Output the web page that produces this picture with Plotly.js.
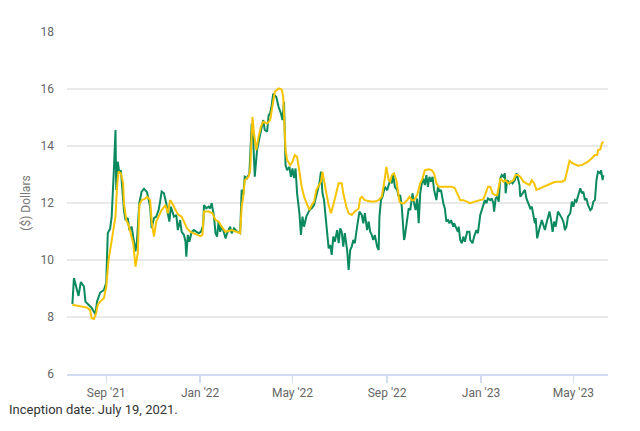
<!DOCTYPE html>
<html>
<head>
<meta charset="utf-8">
<script src="https://cdn.plot.ly/plotly-3.0.1.min.js"></script>
<style>
  html, body { margin: 0; padding: 0; background: #fff; }
  #chart { width: 640px; height: 431px; }
</style>
</head>
<body>
<div id="chart"></div>
<script>
// green line
const greenDates = [
  '2021-07-19','2021-07-21','2021-07-27','2021-07-30','2021-08-03','2021-08-05','2021-08-09','2021-08-13',
  '2021-08-18','2021-08-20','2021-08-24','2021-08-29','2021-09-01','2021-09-03','2021-09-06','2021-09-08',
  '2021-09-11','2021-09-13','2021-09-14','2021-09-16','2021-09-18','2021-09-20','2021-09-24','2021-09-26',
  '2021-09-29','2021-10-01','2021-10-04','2021-10-07','2021-10-09','2021-10-11','2021-10-14','2021-10-17',
  '2021-10-20','2021-10-24','2021-10-28','2021-10-30','2021-11-02','2021-11-05','2021-11-08','2021-11-10',
  '2021-11-12','2021-11-15','2021-11-18','2021-11-20','2021-11-22','2021-11-24','2021-11-28','2021-12-01',
  '2021-12-03','2021-12-06','2021-12-08','2021-12-11','2021-12-13','2021-12-14','2021-12-16','2021-12-18',
  '2021-12-21','2021-12-24','2021-12-27','2021-12-30','2022-01-02','2022-01-05','2022-01-06','2022-01-09',
  '2022-01-12','2022-01-14','2022-01-16','2022-01-19','2022-01-21','2022-01-23','2022-01-25','2022-01-27',
  '2022-01-29','2022-01-31','2022-02-03','2022-02-05','2022-02-09','2022-02-11','2022-02-14','2022-02-18',
  '2022-02-22','2022-02-24','2022-02-26','2022-02-28','2022-03-03','2022-03-06','2022-03-09','2022-03-11',
  '2022-03-13','2022-03-16','2022-03-19','2022-03-22','2022-03-24','2022-03-26','2022-03-29','2022-03-31',
  '2022-04-02','2022-04-04','2022-04-06','2022-04-10','2022-04-13','2022-04-16','2022-04-18','2022-04-20',
  '2022-04-22','2022-04-24','2022-04-27','2022-04-29','2022-05-01','2022-05-03','2022-05-05','2022-05-07',
  '2022-05-10','2022-05-12','2022-05-14','2022-05-16','2022-05-19','2022-05-23','2022-05-26','2022-05-29',
  '2022-06-02','2022-06-05','2022-06-07','2022-06-09','2022-06-11','2022-06-14','2022-06-15','2022-06-17',
  '2022-06-19','2022-06-21','2022-06-23','2022-06-25','2022-06-28','2022-06-30','2022-07-02','2022-07-04',
  '2022-07-06','2022-07-08','2022-07-11','2022-07-13','2022-07-15','2022-07-17','2022-07-19','2022-07-21',
  '2022-07-24','2022-07-27','2022-07-30','2022-08-01','2022-08-03','2022-08-06','2022-08-08','2022-08-10',
  '2022-08-12','2022-08-14','2022-08-16','2022-08-19','2022-08-21','2022-08-22','2022-08-24','2022-08-26',
  '2022-08-29','2022-09-01','2022-09-03','2022-09-05','2022-09-07','2022-09-09','2022-09-11','2022-09-14',
  '2022-09-16','2022-09-18','2022-09-20','2022-09-21','2022-09-23','2022-09-24','2022-09-27','2022-09-29',
  '2022-10-01','2022-10-03','2022-10-04','2022-10-06','2022-10-08','2022-10-10','2022-10-12','2022-10-14',
  '2022-10-16','2022-10-18','2022-10-20','2022-10-22','2022-10-24','2022-10-26','2022-10-28','2022-10-30',
  '2022-11-01','2022-11-04','2022-11-06','2022-11-08','2022-11-10','2022-11-13','2022-11-15','2022-11-17',
  '2022-11-19','2022-11-21','2022-11-23','2022-11-26','2022-11-27','2022-11-30','2022-12-02','2022-12-03',
  '2022-12-05','2022-12-07','2022-12-09','2022-12-11','2022-12-14','2022-12-17','2022-12-18','2022-12-21',
  '2022-12-23','2022-12-26','2022-12-28','2022-12-31','2023-01-02','2023-01-04','2023-01-06','2023-01-08',
  '2023-01-10','2023-01-13','2023-01-15','2023-01-17','2023-01-18','2023-01-20','2023-01-22','2023-01-24',
  '2023-01-26','2023-01-28','2023-01-30','2023-02-01','2023-02-02','2023-02-04','2023-02-07','2023-02-09',
  '2023-02-11','2023-02-14','2023-02-16','2023-02-18','2023-02-20','2023-02-21','2023-02-24','2023-02-27',
  '2023-03-01','2023-03-03','2023-03-06','2023-03-08','2023-03-10','2023-03-12','2023-03-13','2023-03-15',
  '2023-03-18','2023-03-21','2023-03-23','2023-03-25','2023-03-27','2023-03-31','2023-04-02','2023-04-04',
  '2023-04-06','2023-04-08','2023-04-11','2023-04-14','2023-04-16','2023-04-18','2023-04-20','2023-04-22',
  '2023-04-24','2023-04-27','2023-04-29','2023-05-01','2023-05-03','2023-05-05','2023-05-07','2023-05-10',
  '2023-05-12','2023-05-14','2023-05-16','2023-05-18','2023-05-20','2023-05-23','2023-05-25','2023-05-27',
  '2023-05-29','2023-05-31','2023-06-02','2023-06-05','2023-06-06','2023-06-08','2023-06-09'
];
const greenValues = [
  8.45, 9.37, 8.74, 9.23, 9.07, 8.54, 8.43, 8.32,
  8.10, 8.54, 8.85, 8.95, 9.20, 10.95, 11.10, 11.50,
  13.20, 14.56, 12.46, 13.45, 13.05, 13.15, 11.75, 11.40,
  11.47, 11.05, 11.17, 10.60, 10.30, 10.70, 12.00, 12.40,
  12.50, 12.38, 11.87, 11.12, 11.47, 11.52, 11.75, 12.05,
  12.40, 12.34, 11.99, 11.64, 11.35, 11.87, 11.52, 11.58,
  11.05, 11.40, 10.99, 10.88, 10.64, 10.12, 10.88, 10.64,
  10.99, 11.05, 10.99, 10.94, 10.99, 11.23, 11.93, 11.81,
  11.87, 11.81, 11.99, 11.52, 10.94, 10.82, 11.35, 10.99,
  11.17, 11.05, 10.76, 10.94, 11.17, 10.94, 11.11, 10.99,
  10.94, 12.46, 12.28, 12.92, 12.87, 13.04, 14.79, 14.20,
  12.92, 13.86, 14.27, 14.73, 14.91, 14.56, 14.50, 15.08,
  15.14, 15.43, 15.84, 15.72, 15.37, 15.14, 14.91, 15.55,
  13.33, 13.15, 13.27, 12.92, 13.21, 12.87, 13.21, 12.34,
  11.64, 10.88, 11.52, 11.17, 11.52, 11.75, 11.81, 11.93,
  12.34, 12.69, 13.10, 12.34, 12.10, 11.11, 10.99, 10.41,
  10.53, 10.18, 10.82, 10.64, 11.05, 10.59, 11.11, 10.99,
  10.47, 10.94, 10.35, 9.65, 10.35, 10.47, 10.70, 10.59,
  11.17, 11.70, 11.58, 11.29, 11.64, 11.05, 11.35, 10.99,
  10.88, 10.70, 10.88, 10.47, 10.35, 11.52, 12.10, 12.22,
  12.57, 12.45, 12.63, 12.80, 12.69, 12.98, 12.57, 12.46,
  12.22, 12.28, 11.87, 11.35, 10.70, 10.82, 11.47, 11.81,
  11.75, 12.10, 12.34, 11.99, 11.75, 12.16, 11.29, 12.34,
  12.69, 12.86, 12.63, 12.98, 12.57, 12.92, 12.75, 12.92,
  12.46, 12.10, 12.57, 12.40, 12.46, 11.99, 11.81, 11.35,
  11.40, 11.29, 11.40, 11.17, 11.29, 11.11, 10.99, 11.17,
  10.70, 10.59, 10.82, 10.64, 10.99, 10.99, 10.70, 10.59,
  10.82, 11.05, 10.94, 11.58, 11.75, 11.87, 12.10, 11.99,
  12.16, 12.10, 12.16, 11.99, 11.70, 12.16, 12.22, 12.05,
  12.86, 12.98, 12.92, 13.04, 12.34, 12.80, 12.69, 12.75,
  12.69, 12.80, 13.04, 12.86, 12.63, 12.22, 12.34, 12.46,
  12.16, 11.99, 11.81, 11.87, 11.52, 11.29, 11.47, 10.76,
  11.11, 11.40, 11.23, 11.05, 11.29, 11.70, 11.40, 10.99,
  11.35, 11.17, 11.70, 11.58, 11.47, 11.35, 11.05, 11.17,
  11.52, 11.64, 12.05, 11.87, 12.10, 12.05, 12.28, 12.52,
  12.34, 12.40, 12.10, 12.16, 11.93, 11.75, 11.81, 12.05,
  12.10, 12.80, 13.10, 13.04, 13.15, 12.80, 12.98
];

// gold line
const goldDates = [
  '2021-07-19','2021-07-29','2021-08-07','2021-08-11','2021-08-13','2021-08-16','2021-08-19','2021-08-21',
  '2021-08-24','2021-08-29','2021-09-01','2021-09-04','2021-09-07','2021-09-11','2021-09-13','2021-09-15',
  '2021-09-17','2021-09-20','2021-09-23','2021-09-24','2021-09-27','2021-09-30','2021-10-03','2021-10-06',
  '2021-10-09','2021-10-12','2021-10-14','2021-10-17','2021-10-22','2021-10-24','2021-10-28','2021-10-30',
  '2021-11-02','2021-11-05','2021-11-08','2021-11-12','2021-11-17','2021-11-20','2021-11-23','2021-11-27',
  '2021-11-30','2021-12-04','2021-12-08','2021-12-11','2021-12-15','2021-12-19','2021-12-26','2022-01-01',
  '2022-01-04','2022-01-06','2022-01-12','2022-01-17','2022-01-21','2022-01-25','2022-01-29','2022-02-03',
  '2022-02-11','2022-02-18','2022-02-22','2022-02-24','2022-02-26','2022-02-28','2022-03-05','2022-03-07',
  '2022-03-10','2022-03-12','2022-03-15','2022-03-18','2022-03-21','2022-03-24','2022-03-29','2022-04-02',
  '2022-04-05','2022-04-08','2022-04-13','2022-04-17','2022-04-19','2022-04-21','2022-04-22','2022-04-24',
  '2022-04-28','2022-05-01','2022-05-04','2022-05-07','2022-05-10','2022-05-13','2022-05-16','2022-05-20',
  '2022-05-23','2022-05-26','2022-05-29','2022-06-01','2022-06-04','2022-06-07','2022-06-09','2022-06-11',
  '2022-06-14','2022-06-17','2022-06-20','2022-06-23','2022-06-27','2022-06-30','2022-07-04','2022-07-06',
  '2022-07-10','2022-07-13','2022-07-17','2022-07-21','2022-07-26','2022-07-28','2022-07-30','2022-08-03',
  '2022-08-10','2022-08-16','2022-08-21','2022-08-25','2022-08-28','2022-08-31','2022-09-03','2022-09-05',
  '2022-09-07','2022-09-10','2022-09-13','2022-09-15','2022-09-17','2022-09-20','2022-09-23','2022-09-27',
  '2022-09-30','2022-10-03','2022-10-06','2022-10-10','2022-10-14','2022-10-17','2022-10-20','2022-10-25',
  '2022-10-29','2022-11-01','2022-11-04','2022-11-07','2022-11-15','2022-11-24','2022-11-28','2022-12-02',
  '2022-12-05','2022-12-09','2022-12-14','2022-12-18','2022-12-24','2022-12-31','2023-01-04','2023-01-07',
  '2023-01-10','2023-01-13','2023-01-16','2023-01-19','2023-01-22','2023-01-25','2023-01-26','2023-01-30',
  '2023-02-02','2023-02-05','2023-02-08','2023-02-12','2023-02-15','2023-02-18','2023-02-21','2023-02-25',
  '2023-03-01','2023-03-05','2023-03-08','2023-03-11','2023-03-14','2023-03-19','2023-03-23','2023-03-27',
  '2023-04-01','2023-04-05','2023-04-09','2023-04-16','2023-04-20','2023-04-23','2023-04-26','2023-04-29',
  '2023-05-03','2023-05-07','2023-05-12','2023-05-16','2023-05-20','2023-05-25','2023-05-29','2023-06-01',
  '2023-06-02','2023-06-05','2023-06-07','2023-06-09'
];
const goldValues = [
  8.43, 8.39, 8.33, 8.25, 7.96, 7.93, 8.14, 8.43,
  8.54, 8.66, 9.07, 10.00, 10.47, 11.05, 11.52, 12.57,
  13.10, 13.04, 12.69, 11.99, 11.40, 11.23, 10.94, 10.59,
  9.77, 10.24, 11.93, 12.10, 12.16, 12.22, 12.10, 11.35,
  10.82, 11.35, 11.52, 11.75, 11.93, 11.64, 12.10, 11.93,
  11.75, 11.58, 11.52, 11.35, 11.11, 10.99, 10.91, 10.84,
  10.88, 11.70, 11.70, 11.64, 11.40, 11.35, 11.17, 10.99,
  11.05, 10.99, 10.94, 11.87, 12.22, 12.80, 12.92, 13.15,
  15.02, 14.44, 13.86, 14.33, 14.68, 14.85, 14.79, 14.91,
  15.49, 15.90, 16.02, 15.98, 15.72, 14.56, 13.86, 13.51,
  13.33, 13.45, 13.68, 13.62, 13.04, 12.57, 12.22, 11.93,
  11.75, 11.93, 12.05, 12.46, 12.63, 12.75, 13.10, 12.75,
  12.34, 11.93, 11.64, 11.93, 12.34, 12.69, 12.69, 12.34,
  11.87, 11.64, 11.58, 11.70, 11.81, 12.16, 12.22, 12.10,
  12.05, 12.05, 12.10, 12.22, 12.69, 13.27, 12.80, 12.75,
  12.98, 13.04, 12.80, 12.34, 12.05, 11.99, 11.99, 12.10,
  12.22, 12.10, 12.10, 12.28, 12.69, 12.86, 13.15, 13.18,
  13.15, 13.04, 12.69, 12.57, 12.57, 12.57, 12.52, 12.28,
  12.10, 12.10, 12.05, 11.99, 12.05, 12.10, 12.13, 12.34,
  12.57, 12.57, 12.34, 12.28, 12.28, 12.69, 12.86, 12.75,
  12.80, 12.69, 12.75, 12.80, 12.98, 12.98, 12.92, 12.75,
  12.69, 12.63, 12.80, 12.69, 12.46, 12.52, 12.57, 12.63,
  12.69, 12.72, 12.75, 12.75, 12.80, 13.15, 13.48, 13.41,
  13.36, 13.31, 13.33, 13.39, 13.45, 13.57, 13.68, 13.68,
  13.86, 13.88, 14.09, 14.15
];

const yTicks = [6, 8, 10, 12, 14, 16, 18];
const xTicks = ['2021-09-01', '2022-01-01', '2022-05-01', '2022-09-01', '2023-01-01', '2023-05-01'];
const xTickText = ["Sep '21", "Jan '22", "May '22", "Sep '22", "Jan '23", "May '23"];

const traces = [
  {
    type: 'scatter', mode: 'lines', name: 'Market price',
    x: greenDates, y: greenValues,
    line: { color: '#0a8a5e', width: 2 },
    hoverinfo: 'skip'
  },
  {
    type: 'scatter', mode: 'lines', name: 'NAV',
    x: goldDates, y: goldValues,
    line: { color: '#f8c300', width: 2 },
    hoverinfo: 'skip'
  }
];

const layout = {
  width: 640,
  height: 431,
  margin: { l: 67, r: 32, t: 32, b: 57 },
  paper_bgcolor: '#ffffff',
  plot_bgcolor: '#ffffff',
  showlegend: false,
  font: { family: 'Roboto, sans-serif', size: 12, color: '#666666' },
  xaxis: {
    type: 'date',
    range: ['2021-07-12', '2023-06-15'],
    tickvals: xTicks,
    ticktext: xTickText,
    showgrid: false,
    zeroline: false,
    showline: true,
    linecolor: '#d3dcee',
    linewidth: 1.5,
    ticks: 'outside',
    ticklen: 7,
    tickcolor: '#d3dcee',
    tickwidth: 1.5,
    tickfont: { size: 12, color: '#666666' }
  },
  yaxis: {
    range: [6, 18],
    tickvals: yTicks,
    showgrid: true,
    gridcolor: '#e9e9e9',
    gridwidth: 1.5,
    zeroline: false,
    showline: false,
    ticks: '',
    ticklabelstandoff: 12,
    tickfont: { size: 12, color: '#666666' },
    title: { text: '($) Dollars', font: { size: 12, color: '#777777' }, standoff: 7 }
  },
  annotations: [{
    xref: 'paper', yref: 'paper',
    x: -0.111, y: -0.104,
    xanchor: 'left', yanchor: 'middle',
    text: 'Inception date: July 19, 2021.',
    showarrow: false,
    font: { size: 13, color: '#333333' }
  }]
};

Plotly.newPlot('chart', traces, layout, { displayModeBar: false, staticPlot: true });
</script>
</body>
</html>
